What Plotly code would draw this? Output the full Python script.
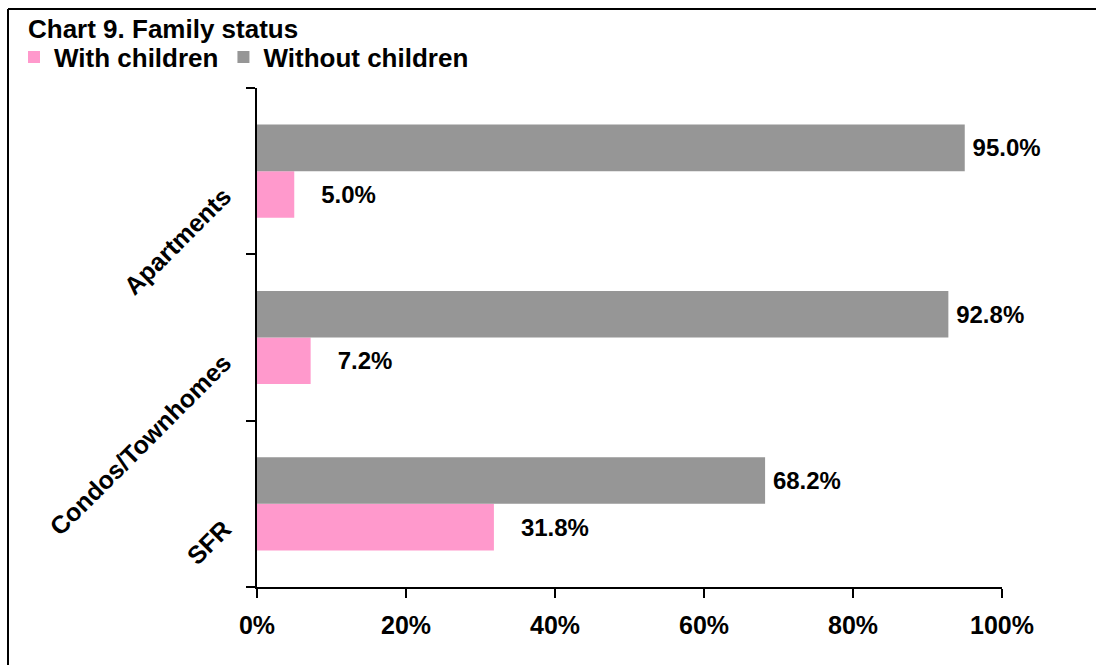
import plotly.graph_objects as go

categories = ["SFR", "Condos/Townhomes", "Apartments"]
with_children = [31.8, 7.2, 5.0]
without_children = [68.2, 92.8, 95.0]
x_ticks = [0, 20, 40, 60, 80, 100]
x_tick_labels = ["0%", "20%", "40%", "60%", "80%", "100%"]

FONT = "Liberation Sans, Arial, sans-serif"
FS_LABEL = 24
FS_TICK = 25
FS_HEAD = 26

W, H = 1096, 665
ML, MR, MT, MB = 257, 94, 88, 78
pw, ph = W - ML - MR, H - MT - MB

fig = go.Figure()
fig.add_trace(go.Bar(
    name="<b>With children</b>", y=categories, x=with_children, orientation="h",
    marker=dict(color="#FF99CC", line=dict(width=0)),
    text=["\u2003" + f"{v:.1f}%" for v in with_children],
    textposition="outside", cliponaxis=False,
    textfont=dict(family=FONT, size=FS_LABEL, color="black", weight="bold"),
))
fig.add_trace(go.Bar(
    name="<b>Without children</b>", y=categories, x=without_children, orientation="h",
    marker=dict(color="#969696", line=dict(width=0)),
    text=["\u2009" + f"{v:.1f}%" for v in without_children],
    textposition="outside", cliponaxis=False,
    textfont=dict(family=FONT, size=FS_LABEL, color="black", weight="bold"),
))

def px_x(p):
    return (p - ML) / pw

def px_y(p):
    return (H - MB - p) / ph

fig.update_layout(
    width=W, height=H,
    margin=dict(l=ML, r=MR, t=MT, b=MB, pad=0),
    paper_bgcolor="white", plot_bgcolor="white",
    barmode="group", bargap=0.44, bargroupgap=0,
    font=dict(family=FONT, size=FS_TICK, color="black"),
    title=dict(text="<b>Chart 9. Family status</b>", x=28 / W, xanchor="left",
               xref="container", yref="container",
               y=1 - 29 / H, yanchor="middle",
               font=dict(family=FONT, size=FS_HEAD, color="black")),
    legend=dict(orientation="h", x=px_x(14), xanchor="left", y=px_y(57), yanchor="middle",
                font=dict(family=FONT, size=FS_HEAD, color="black"),
                bgcolor="rgba(0,0,0,0)", traceorder="normal", itemwidth=30,
                tracegroupgap=0),
    showlegend=True,
)

fig.update_xaxes(
    range=[0, 100], tickvals=x_ticks, ticktext=["<b>" + t + "</b>" for t in x_tick_labels],
    showgrid=False, zeroline=False, showline=True, linecolor="black", linewidth=2,
    ticks="outside", ticklen=9, tickwidth=2, tickcolor="black",
    tickfont=dict(family=FONT, size=FS_TICK, color="black"),
    ticklabelstandoff=6,
)
fig.update_yaxes(
    categoryorder="array", categoryarray=categories,
    tickvals=categories, ticktext=["<b>" + c + "</b>" for c in categories],
    showgrid=False, zeroline=False, showline=True, linecolor="black", linewidth=2,
    ticks="outside", ticklen=9, tickwidth=2, tickcolor="black", tickson="boundaries",
    tickangle=-45, tickfont=dict(family=FONT, size=FS_TICK, color="black"),
    ticklabelstandoff=26, ticklabelshift=22,
)

# outer chart frame (only top and left edges fall inside the picture)
fig.add_shape(type="line", xref="paper", yref="paper",
              x0=px_x(8), x1=px_x(1400), y0=px_y(9), y1=px_y(9),
              line=dict(color="black", width=2), layer="below")
fig.add_shape(type="line", xref="paper", yref="paper",
              x0=px_x(8), x1=px_x(8), y0=px_y(9), y1=px_y(1000),
              line=dict(color="black", width=2), layer="below")

fig.write_html("out.html")
